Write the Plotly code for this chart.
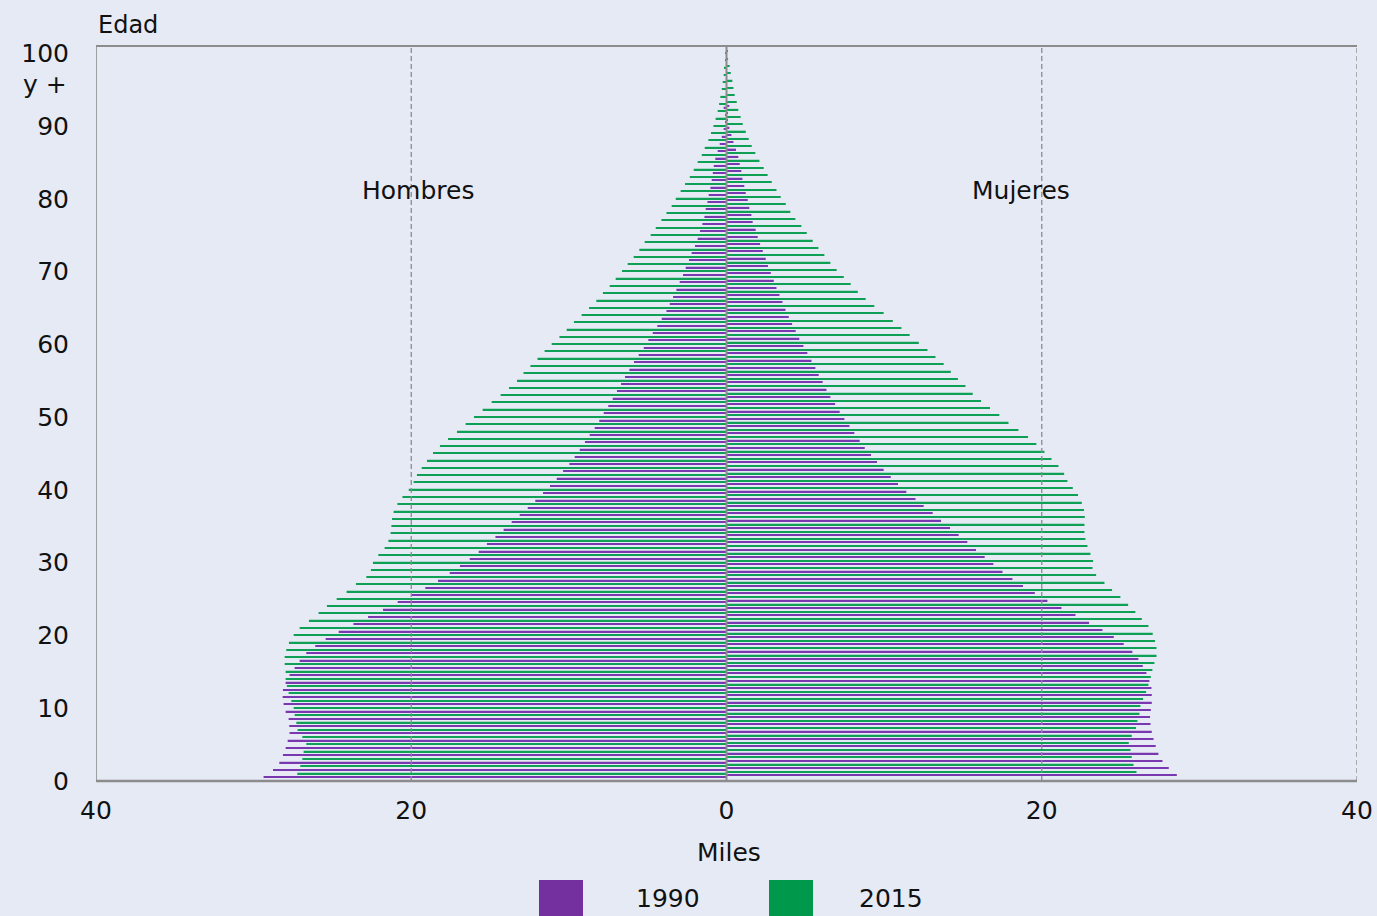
import plotly.graph_objects as go

# ---------------- data (thousands of people by single year of age) ----------------
ages = list(range(101))

men_1990 = [29.37, 28.77, 28.37, 28.14, 27.97, 27.84, 27.72, 27.74, 27.78, 27.97,
            28.10, 28.16, 28.14, 27.97, 27.72, 27.40, 27.08, 26.66, 26.09, 25.43,
            24.60, 23.67, 22.74, 21.79, 20.86, 20.00, 19.11, 18.30, 17.56, 16.91,
            16.29, 15.72, 15.20, 14.66, 14.14, 13.63, 13.12, 12.61, 12.13, 11.64,
            11.20, 10.77, 10.37, 9.97, 9.63, 9.31, 8.98, 8.68, 8.36, 8.07,
            7.79, 7.50, 7.22, 6.95, 6.69, 6.44, 6.16, 5.87, 5.57, 5.25,
            4.96, 4.68, 4.39, 4.11, 3.81, 3.60, 3.39, 3.18, 2.97, 2.76,
            2.59, 2.38, 2.21, 2.00, 1.83, 1.68, 1.53, 1.40, 1.32, 1.21,
            1.13, 1.02, 0.94, 0.87, 0.81, 0.71, 0.56, 0.43, 0.30, 0.18,
            0.05, 0.04, 0.18, 0.0, 0.0, 0.0, 0.0, 0.0, 0.0, 0.0, 0.0]

men_2015 = [27.23, 27.04, 26.91, 26.83, 26.66, 26.91, 27.21, 27.29, 27.40, 27.46,
            27.61, 27.78, 27.89, 27.97, 27.97, 28.03, 28.03, 27.93, 27.76, 27.46,
            27.08, 26.49, 25.88, 25.35, 24.73, 24.10, 23.51, 22.85, 22.56, 22.43,
            22.09, 21.69, 21.45, 21.31, 21.26, 21.22, 21.12, 20.88, 20.56, 20.16,
            19.85, 19.64, 19.34, 19.00, 18.62, 18.18, 17.67, 17.10, 16.55, 16.02,
            15.47, 14.90, 14.33, 13.80, 13.29, 12.88, 12.44, 11.99, 11.54, 11.09,
            10.60, 10.14, 9.68, 9.19, 8.72, 8.26, 7.84, 7.41, 7.03, 6.63,
            6.27, 5.89, 5.53, 5.19, 4.81, 4.49, 4.13, 3.81, 3.48, 3.22,
            2.91, 2.63, 2.33, 2.08, 1.83, 1.57, 1.38, 1.15, 0.98, 0.83,
            0.69, 0.56, 0.47, 0.39, 0.30, 0.24, 0.18, 0.16, 0.08, 0.05, 0.0]

women_1990 = [28.57, 28.06, 27.66, 27.40, 27.23, 27.09, 26.98, 26.90, 26.87, 26.92,
              26.98, 26.98, 26.96, 26.83, 26.64, 26.41, 26.13, 25.75, 25.20, 24.57,
              23.85, 23.00, 22.14, 21.25, 20.36, 19.56, 18.81, 18.14, 17.51, 16.93,
              16.38, 15.83, 15.28, 14.73, 14.18, 13.61, 13.08, 12.51, 11.99, 11.41,
              10.88, 10.42, 9.97, 9.55, 9.17, 8.77, 8.45, 8.11, 7.80, 7.48,
              7.18, 6.89, 6.59, 6.34, 6.10, 5.85, 5.64, 5.39, 5.13, 4.88,
              4.62, 4.39, 4.16, 3.95, 3.74, 3.55, 3.36, 3.17, 3.00, 2.81,
              2.63, 2.49, 2.30, 2.13, 1.98, 1.85, 1.66, 1.58, 1.45, 1.35,
              1.22, 1.13, 1.01, 0.94, 0.84, 0.75, 0.60, 0.44, 0.31, 0.18,
              0.05, 0.04, 0.18, 0.0, 0.0, 0.0, 0.0, 0.0, 0.0, 0.0, 0.0]

women_2015 = [26.01, 25.82, 25.71, 25.63, 25.52, 25.71, 25.98, 26.07, 26.20, 26.26,
              26.43, 26.62, 26.77, 26.92, 27.02, 27.15, 27.28, 27.28, 27.19, 27.04,
              26.77, 26.35, 25.94, 25.48, 24.99, 24.46, 23.98, 23.45, 23.22, 23.26,
              23.09, 22.90, 22.77, 22.71, 22.71, 22.73, 22.68, 22.54, 22.30, 21.97,
              21.63, 21.42, 21.06, 20.62, 20.17, 19.66, 19.13, 18.52, 17.89, 17.31,
              16.72, 16.15, 15.62, 15.16, 14.68, 14.23, 13.78, 13.26, 12.75, 12.20,
              11.62, 11.10, 10.55, 9.97, 9.38, 8.83, 8.33, 7.88, 7.44, 6.99,
              6.59, 6.21, 5.83, 5.47, 5.09, 4.75, 4.37, 4.05, 3.76, 3.44,
              3.17, 2.87, 2.61, 2.36, 2.09, 1.83, 1.60, 1.41, 1.22, 1.03,
              0.90, 0.75, 0.65, 0.52, 0.44, 0.37, 0.27, 0.20, 0.10, 0.06, 0.0]

years = ["1990", "2015"]
y_tick_vals = [0, 10, 20, 30, 40, 50, 60, 70, 80, 90, 100]
y_tick_text = ["0", "10", "20", "30", "40", "50", "60", "70", "80", "90", "100"]
x_tick_vals = [-40, -20, 0, 20, 40]
x_tick_text = ["40", "20", "0", "20", "40"]

# ---------------- style ----------------
PURPLE = "#7530A0"
GREEN = "#00994C"
LINE_PURPLE = "#7A38B0"
LINE_GREEN = "#0EA055"
GRID = "#8C8C8C"
BG = "#E6EAF5"
FONT = "DejaVu Sans"
BAR_W = 0.19


def line_bars(values, sign, color, center):
    return go.Bar(
        y=ages,
        x=[sign * v for v in values],
        orientation="h",
        offset=center - BAR_W / 2,
        width=BAR_W,
        marker=dict(color=color, line=dict(width=0)),
        showlegend=False,
        hoverinfo="x+y",
    )


fig = go.Figure()
fig.add_trace(line_bars(men_1990, -1, LINE_PURPLE, 0.56))
fig.add_trace(line_bars(men_2015, -1, LINE_GREEN, 1.05))
fig.add_trace(line_bars(women_1990, 1, LINE_PURPLE, 0.80))
fig.add_trace(line_bars(women_2015, 1, LINE_GREEN, 1.27))

shapes = []
for xv in (-20, 20, 40):
    shapes.append(dict(type="line", xref="x", yref="paper", x0=xv, x1=xv, y0=0, y1=1,
                       line=dict(color=GRID, width=1.3, dash="5px,3px"), layer="above"))
shapes.append(dict(type="line", xref="x", yref="paper", x0=-40, x1=-40, y0=0, y1=1,
                   line=dict(color=GRID, width=1.6), layer="above"))
shapes.append(dict(type="line", xref="x", yref="paper", x0=0, x1=0, y0=0, y1=1,
                   line=dict(color=GRID, width=2), layer="above"))
shapes.append(dict(type="line", xref="paper", yref="paper", x0=0, x1=1, y0=1, y1=1,
                   line=dict(color=GRID, width=2), layer="above"))
shapes.append(dict(type="line", xref="paper", yref="paper", x0=0, x1=1, y0=0, y1=0,
                   line=dict(color=GRID, width=2.5), layer="above"))

# legend squares
shapes.append(dict(type="rect", xref="paper", yref="paper", x0=0.3513, x1=0.3862,
                   y0=-0.1946, y1=-0.1347, fillcolor=PURPLE, line=dict(width=0)))
shapes.append(dict(type="rect", xref="paper", yref="paper", x0=0.5337, x1=0.5686,
                   y0=-0.1946, y1=-0.1347, fillcolor=GREEN, line=dict(width=0)))

tfont = dict(family=FONT, size=25, color="#111111")
annotations = [
    dict(text="Edad", xref="paper", yref="paper", x=0, y=1.0286, xanchor="left",
         yanchor="middle", showarrow=False, font=dict(family=FONT, size=24, color="#111111")),
    dict(text="y +", xref="paper", yref="y", x=0, y=95.7, xanchor="right", yanchor="middle",
         xshift=-27, showarrow=False, font=tfont),
    dict(text="Hombres", xref="x", yref="y", x=-19.6, y=81.2, showarrow=False, font=tfont),
    dict(text="Mujeres", xref="x", yref="y", x=18.7, y=81.2, showarrow=False, font=tfont),
    dict(text="Miles", xref="paper", yref="paper", x=0.502, y=-0.0966, showarrow=False,
         xanchor="center", yanchor="middle", font=tfont),
    dict(text=years[0], xref="paper", yref="paper", x=0.4536, y=-0.1605, showarrow=False,
         xanchor="center", yanchor="middle", font=tfont),
    dict(text=years[1], xref="paper", yref="paper", x=0.6304, y=-0.1605, showarrow=False,
         xanchor="center", yanchor="middle", font=tfont),
]

fig.update_layout(
    autosize=True,
    margin=dict(l=96, r=20, t=46, b=135, autoexpand=False),
    paper_bgcolor=BG, plot_bgcolor=BG,
    barmode="overlay",
    font=tfont,
    shapes=shapes,
    annotations=annotations,
    showlegend=False,
    xaxis=dict(range=[-40, 40], tickmode="array", tickvals=x_tick_vals, ticktext=x_tick_text,
               showgrid=False, zeroline=False, showline=False, ticks="outside", ticklen=7,
               tickcolor="rgba(0,0,0,0)", tickfont=tfont, fixedrange=True, automargin=False),
    yaxis=dict(range=[0, 101], tickmode="array", tickvals=y_tick_vals, ticktext=y_tick_text,
               showgrid=False, zeroline=False, showline=False, ticks="outside", ticklen=21,
               tickcolor="rgba(0,0,0,0)", tickfont=tfont, fixedrange=True, automargin=False),
)

post = (
    "document.documentElement.style.overflow='hidden';"
    "document.documentElement.style.margin='0';"
    "document.body.style.margin='0';"
    "document.body.style.overflow='hidden';"
    "var gd=document.getElementById('{plot_id}');"
    "gd.style.width='100vw';gd.style.height='100vh';"
    "Plotly.Plots.resize(gd);"
)

fig.write_html("out.html", config={"displayModeBar": False},
               default_width="100vw", default_height="100vh", post_script=post)
